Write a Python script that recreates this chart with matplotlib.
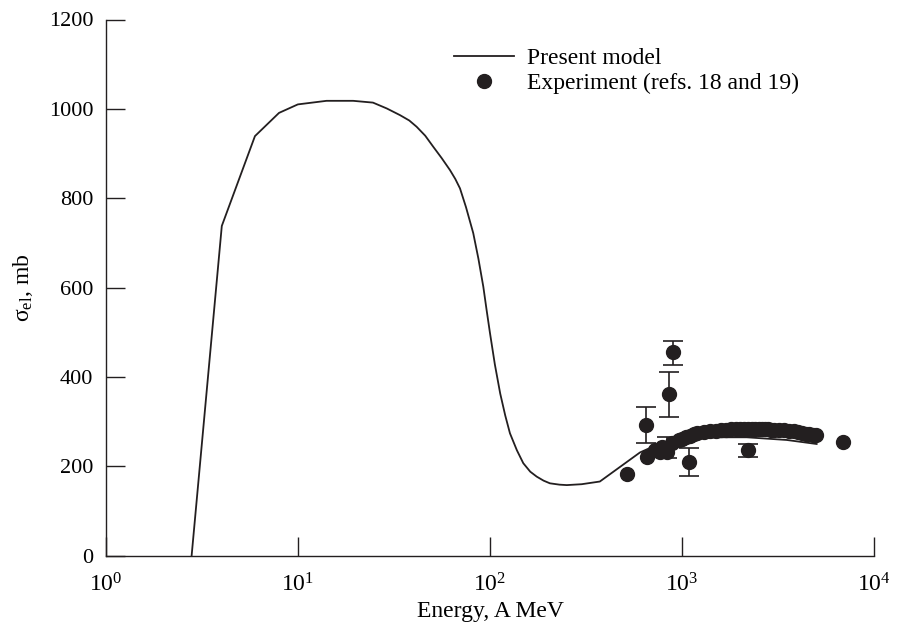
import numpy as np
import matplotlib
matplotlib.use("Agg")
import matplotlib.pyplot as plt

# Model curve (energy in A MeV, cross section in mb)
model_energy = [2.80, 4.02, 5.98, 7.98, 10.0, 14.1, 19.4, 24.6, 29.0, 34.0,
                38.0, 41.5, 46.0, 50.7, 56.0, 61.9, 66.0, 69.8, 75.0, 81.8,
                87.0, 92.3, 96.0, 100, 106, 113, 120, 127, 138, 149, 162,
                175, 190, 205, 230, 251, 300, 373, 603, 738, 937, 1396,
                2168, 3500, 5012]
model_sigma = [0, 738, 939, 991, 1010, 1018, 1018, 1014, 1001, 986,
               974, 960, 940, 915, 890, 863, 843, 822, 780, 722,
               665, 602, 550, 498, 428, 363, 314, 274, 236, 207, 188,
               177, 168, 162, 159, 158, 160, 166, 231, 248, 260, 265,
               265, 259, 250]

# Experimental points (no visible error bars)
exp_energy = [514, 660, 720, 767, 790, 890, 960, 6900,
              1000, 1050, 1100, 1150, 1200, 1300, 1400, 1500, 1600, 1700,
              1800, 1900, 2000, 2100, 2200, 2300, 2400, 2500, 2600, 2700,
              2800, 2900, 3000, 3200, 3400, 3600, 3800, 4000, 4200, 4400,
              4600, 4800, 5000]
exp_sigma = [183, 220, 236, 233, 243, 252, 260, 254,
             262, 266, 269, 272, 274, 277, 279, 280, 281, 282,
             283, 283, 284, 284, 284, 284, 284, 284, 283, 283,
             283, 282, 282, 282, 281, 280, 279, 277, 275, 273,
             272, 271, 270]

# Experimental points with error bars
err_energy = [648, 837, 857, 899, 1089, 2208]
err_sigma = [293, 233, 362, 455, 209, 237]
err_low = [40, 15, 52, 28, 31, 17]
err_high = [39, 32, 50, 26, 31, 13]

ink = "#231f20"

plt.rcParams["font.family"] = ["Liberation Serif", "DejaVu Serif"]
plt.rcParams["mathtext.fontset"] = "custom"
plt.rcParams["mathtext.rm"] = "Liberation Serif"
plt.rcParams["mathtext.it"] = "Liberation Serif:italic"
plt.rcParams["font.size"] = 16

fig = plt.figure(figsize=(8.97, 6.32), dpi=100)
ax = fig.add_axes([105.7 / 897, 1 - 555.7 / 632, (874.3 - 105.7) / 897, (555.7 - 19.5) / 632])

ax.plot(model_energy, model_sigma, color=ink, lw=1.3, label="Present model")
ax.errorbar(err_energy, err_sigma, yerr=[err_low, err_high], fmt="o", color=ink,
            ms=10, capsize=7, elinewidth=1.2, capthick=1.2)
ax.plot(exp_energy, exp_sigma, "o", color=ink, ms=10,
        label="Experiment (refs. 18 and 19)")

ax.set_xscale("log")
ax.set_xlim(1, 1e4)
ax.set_ylim(0, 1200)
ax.set_yticks(np.arange(0, 1201, 200))
ax.minorticks_off()

for s in ["top", "right"]:
    ax.spines[s].set_visible(False)
for s in ["left", "bottom"]:
    ax.spines[s].set_color(ink)
    ax.spines[s].set_linewidth(1.0)

ax.tick_params(axis="both", direction="in", length=14, width=1.0, color=ink,
               labelsize=16)
ax.tick_params(axis="x", pad=13, labelsize=17)
ax.tick_params(axis="y", pad=9)

ax.set_xlabel("Energy, A MeV", fontsize=17, labelpad=3)
ax.set_ylabel("σ$_{\\rm el}$, mb", fontsize=17, labelpad=10)

ax.legend(loc="upper left", bbox_to_anchor=(0.453, 0.948), frameon=False,
          borderpad=0, borderaxespad=0, handlelength=2.55, handletextpad=0.55,
          labelspacing=0.15, numpoints=1, fontsize=17)

fig.savefig("out.png", dpi=100)
